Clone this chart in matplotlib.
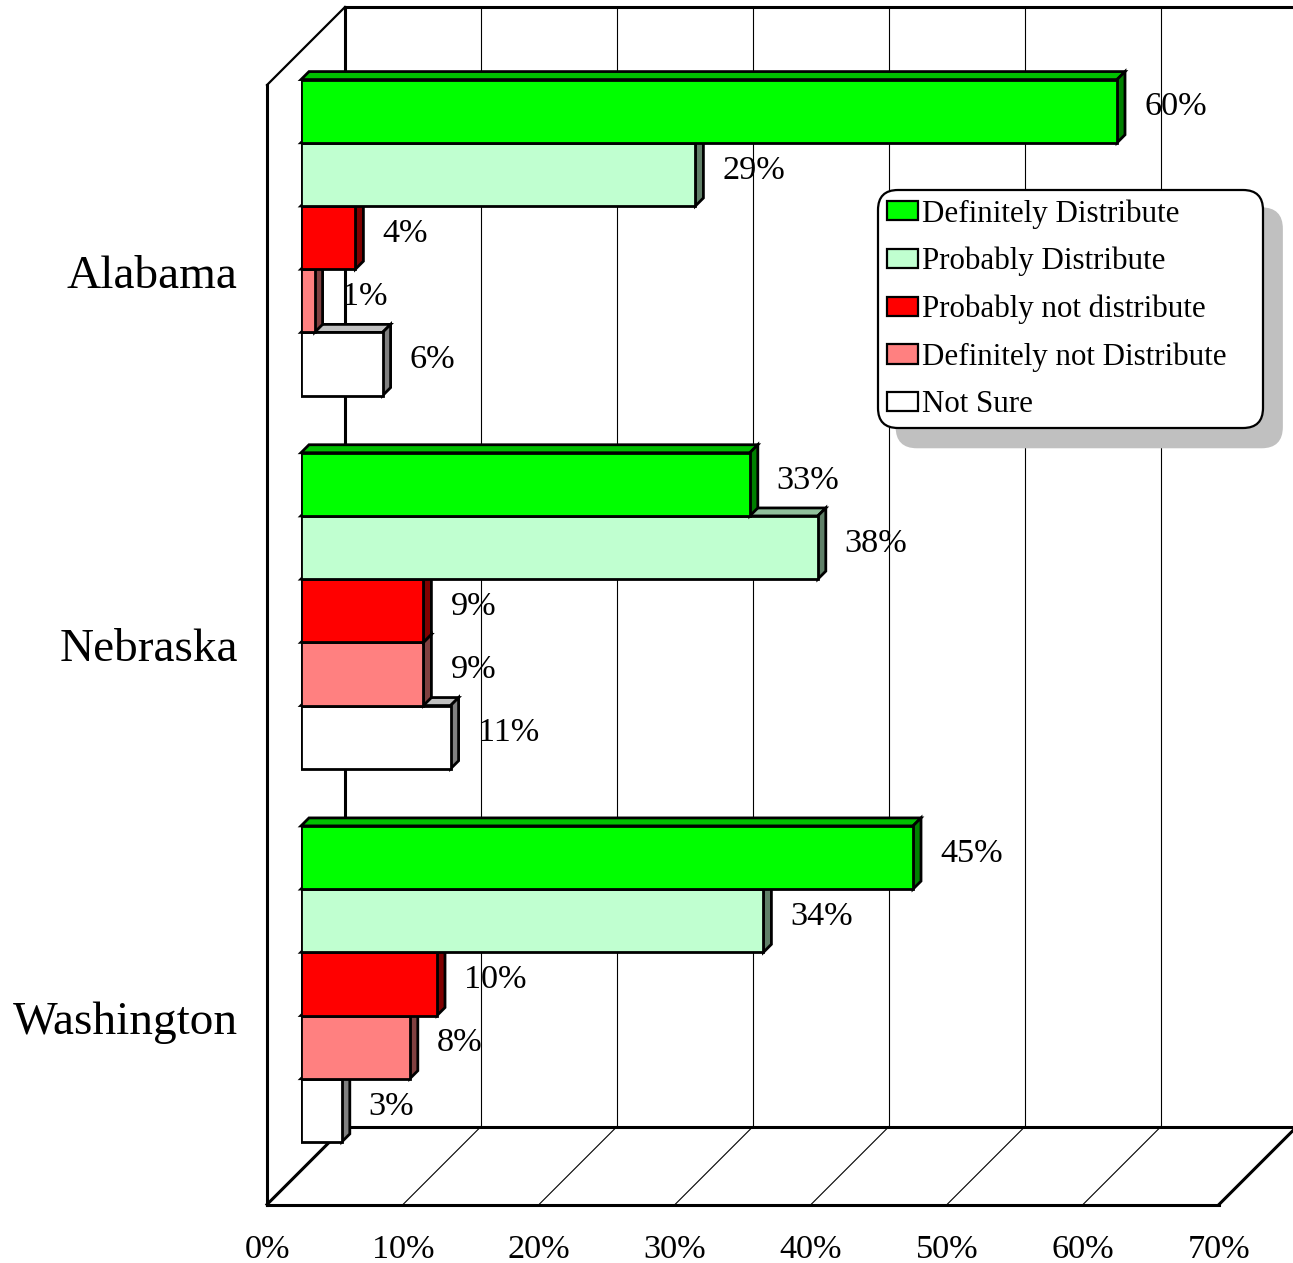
import numpy as np
import matplotlib
matplotlib.use("Agg")
import matplotlib.pyplot as plt
from matplotlib.patches import Polygon

plt.rcParams['font.family'] = ['Liberation Serif', 'DejaVu Serif']

states = ['Alabama', 'Nebraska', 'Washington']
responses = ['Definitely Distribute', 'Probably Distribute', 'Probably not distribute',
             'Definitely not Distribute', 'Not Sure']
definitely = [60, 33, 45]
probably = [29, 38, 34]
probably_not = [4, 9, 10]
definitely_not = [1, 9, 8]
not_sure = [6, 11, 3]
series = [definitely, probably, probably_not, definitely_not, not_sure]
xticks = [0, 10, 20, 30, 40, 50, 60, 70]

# front / top / side colours of each series
front_c = ['#00FF00', '#C0FFD0', '#FF0000', '#FF8080', '#FFFFFF']
top_c = ['#00C000', '#90C09C', '#C00000', '#C06060', '#C0C0C0']
side_c = ['#008000', '#608068', '#800000', '#804040', '#808080']

W, H, DPI = 1293, 1263, 100
# bar plane of the 3d box, in pixels
L, T, PW, PH = 301, 51, 952, 1119.5
FRONT, BACK, DEPTH = 34, 44, 8   # pixel depth offsets

fig = plt.figure(figsize=(W / DPI, H / DPI), dpi=DPI)
ax = fig.add_axes([L / W, 1 - (T + PH) / H, PW / W, PH / H])
ax.set_xlim(0, 70)
ax.set_ylim(2.5, -0.5)
ax.axis('off')

sx = PW / 70.0
sy = PH / 3.0


def shift(x, y, d):
    return x + d / sx, y - d / sy


def line(p, q, lw):
    ax.plot([p[0], q[0]], [p[1], q[1]], color='black', lw=lw,
            solid_capstyle='projecting', clip_on=False, zorder=1)


# walls and floor
thick, thin = 2.2, 0.8
for k in xticks[1:]:
    line(shift(k, -0.5, BACK), shift(k, 2.5, BACK), thin)
    if k < 70:
        line(shift(k, 2.5, -FRONT), shift(k, 2.5, BACK), thin)
line(shift(0, -0.5, BACK), shift(75, -0.5, BACK), thick)
line(shift(0, -0.5, BACK), shift(0, 2.5, BACK), thick)
line(shift(0, 2.5, BACK), shift(75, 2.5, BACK), thick)
line(shift(0, -0.5, -FRONT), shift(0, 2.5, -FRONT), thick)
line(shift(0, -0.5, -FRONT), shift(0, -0.5, BACK), 1.6)
line(shift(0, 2.5, -FRONT), shift(0, 2.5, BACK), thick)
line(shift(0, 2.5, -FRONT), shift(70, 2.5, -FRONT), thick)
line(shift(70, 2.5, -FRONT), shift(70, 2.5, BACK), thick)

# bars, lower series drawn first so upper bars cover their top faces
h = 63.2 / sy
centers = np.arange(len(states))
containers = []
for j, vals in enumerate(series):
    z = 10 + 3 * (len(series) - j)
    y = centers + (j - 2) * h
    bc = ax.barh(y, vals, height=h, color=front_c[j], edgecolor='black',
                 lw=2, zorder=z + 2, label=responses[j])
    containers.append(bc)
    for yi, v in zip(y, vals):
        yt, yb = yi - h / 2, yi + h / 2
        top = [(0, yt), (v, yt), shift(v, yt, DEPTH), shift(0, yt, DEPTH)]
        side = [(v, yt), (v, yb), shift(v, yb, DEPTH), shift(v, yt, DEPTH)]
        ax.add_patch(Polygon(top, closed=True, fc=top_c[j], ec='black', lw=2,
                             joinstyle='miter', zorder=z, clip_on=False))
        ax.add_patch(Polygon(side, closed=True, fc=side_c[j], ec='black', lw=2,
                             joinstyle='miter', zorder=z + 1, clip_on=False))
        ax.text(v + 27 / sx, yi - 4 / sy, f'{v}%', fontsize=24.7,
                va='center', ha='left', zorder=40)

# front plane axes carries the tick labels
fax = fig.add_axes([(L - FRONT) / W, 1 - (T + PH + FRONT) / H, PW / W, PH / H],
                   zorder=-1)
fax.set_xlim(0, 70)
fax.set_ylim(2.5, -0.5)
fax.patch.set_visible(False)
for s in fax.spines.values():
    s.set_visible(False)
fax.set_xticks(xticks)
fax.set_xticklabels([f'{t}%' for t in xticks], fontsize=24.7)
fax.set_yticks(centers)
fax.set_yticklabels(states, fontsize=34)
fax.tick_params(axis='x', length=0, pad=21.5)
fax.tick_params(axis='y', length=0, pad=21)

leg = ax.legend(handles=containers, loc='upper left', mode='expand',
                bbox_to_anchor=(878 / W, 1 - 191 / H, 385 / W, 0.001),
                bbox_transform=fig.transFigure,
                borderaxespad=0, fontsize=22.3, frameon=True, fancybox=True,
                shadow={'ox': 13.5, 'oy': -13.5, 'facecolor': '#C0C0C0',
                        'edgecolor': '#C0C0C0', 'alpha': 1},
                handlelength=1.0, handleheight=0.58, handletextpad=0.12,
                labelspacing=0.59, borderpad=0.3)
leg.set_zorder(50)
frame = leg.get_frame()
frame.set_edgecolor('black')
frame.set_linewidth(1.6)
frame.set_alpha(1)
frame.set_boxstyle('round', pad=0, rounding_size=0.65)
for p in leg.get_patches():
    p.set_linewidth(1.6)

fig.savefig('out.png', dpi=DPI)
